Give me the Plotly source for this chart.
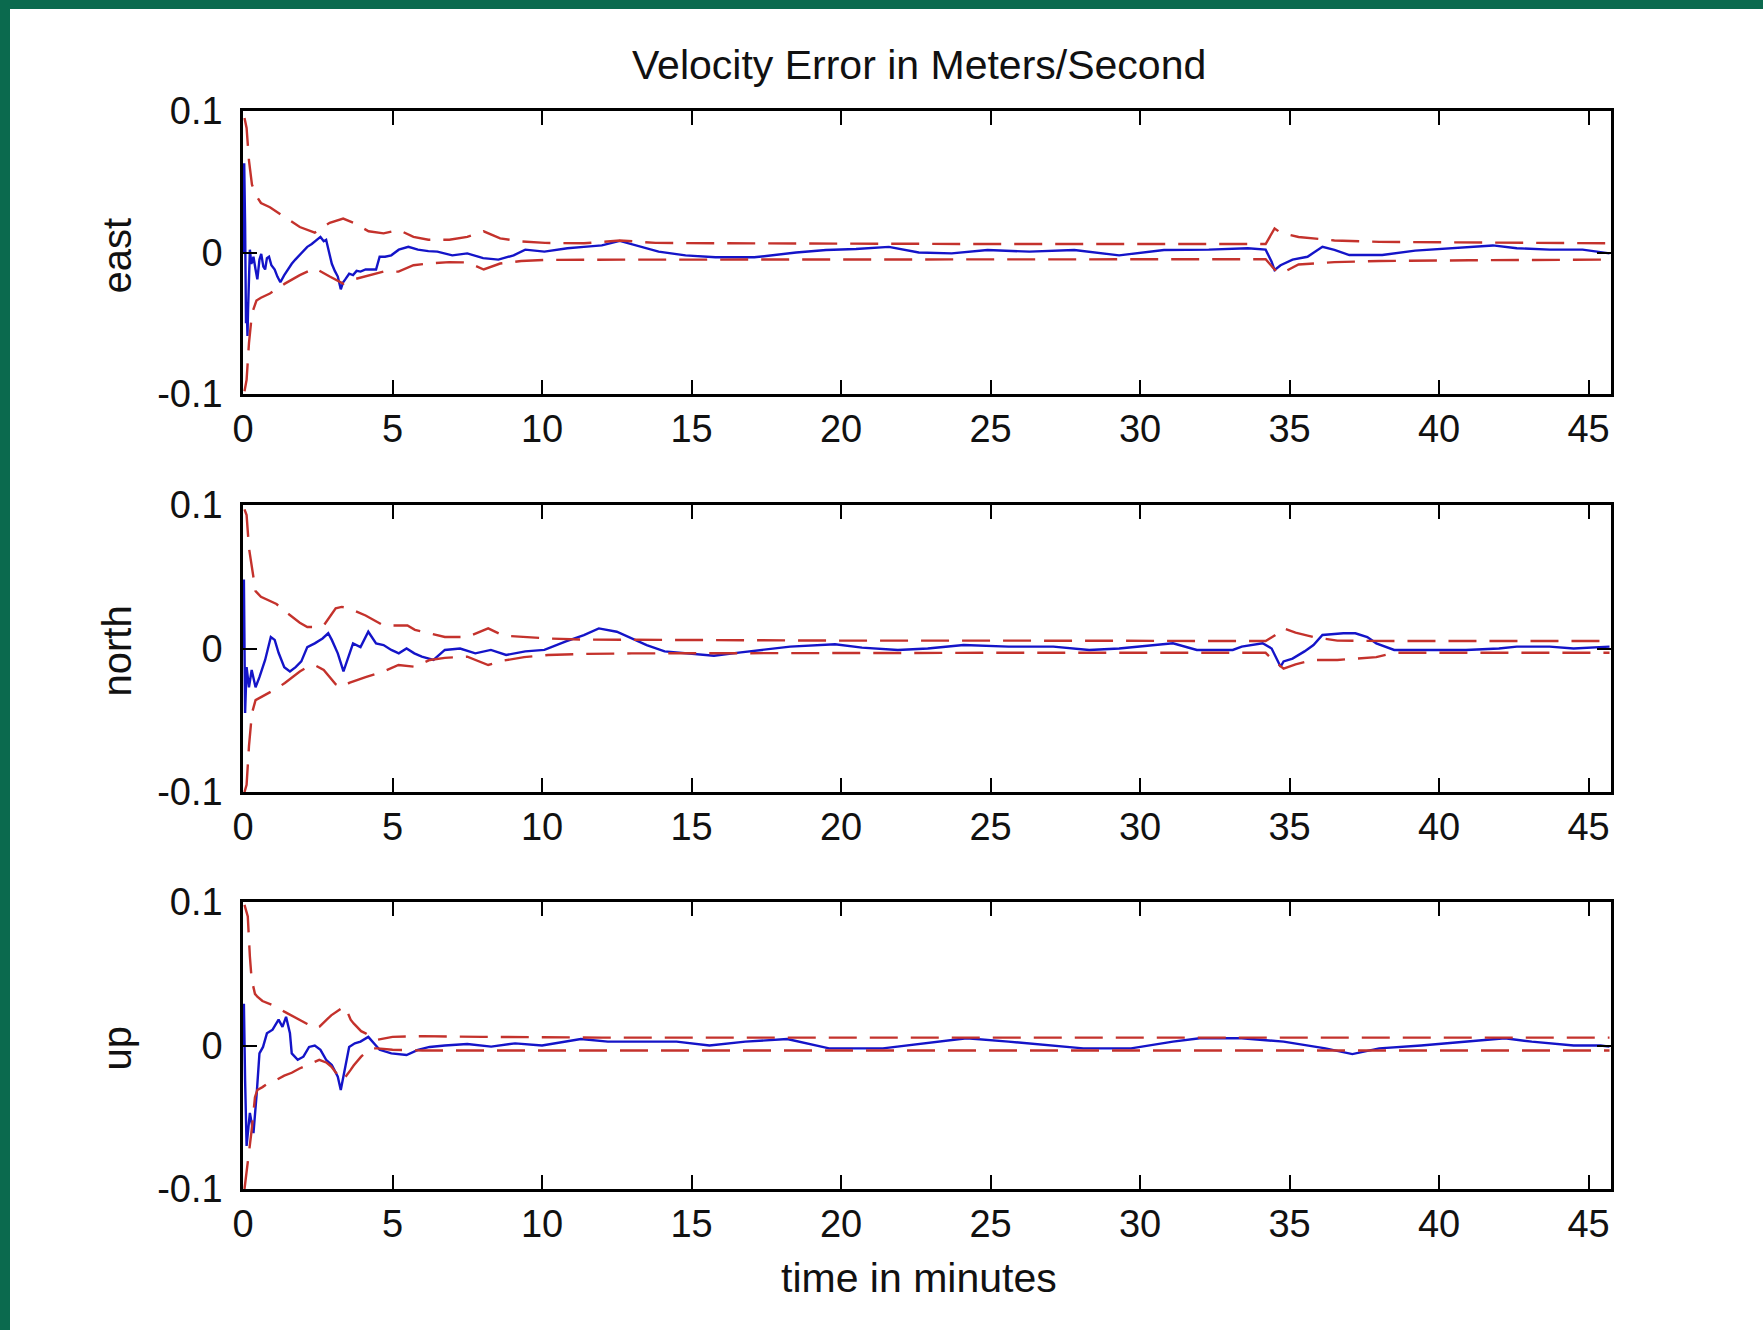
import plotly.graph_objects as go

# ---------------------------------------------------------------------------
# Velocity error (m/s) and its +/- bounds, east / north / up channels
# ---------------------------------------------------------------------------
east_t = [0.0, 0.04, 0.07, 0.1, 0.12, 0.15, 0.17, 0.2, 0.23, 0.28, 0.35, 0.42, 0.48, 0.55,
          0.61, 0.68, 0.74, 0.8, 0.87, 0.95, 1.06, 1.15, 1.25, 1.38, 1.5, 1.63, 1.75, 1.89,
          2.0, 2.15, 2.3, 2.4, 2.5, 2.59, 2.7, 2.78, 2.88, 2.97, 3.07, 3.17, 3.27, 3.35,
          3.42, 3.55, 3.68, 3.8, 3.93, 4.1, 4.3, 4.45, 4.57, 4.75, 4.96, 5.21, 5.53, 5.85,
          6.2, 6.5, 7.0, 7.5, 8.03, 8.54, 9.05, 9.44, 10.08, 10.85, 11.4, 12.0, 12.6, 13.3,
          13.9, 14.8, 15.8, 17.1, 18.5, 19.5, 20.5, 21.6, 22.6, 23.7, 24.9, 26.3, 27.8,
          29.3, 30.8, 32.3, 33.6, 34.2, 34.4, 34.5, 34.7, 35.1, 35.6, 36.1, 36.5, 37.0,
          38.1, 39.2, 40.4, 41.8, 42.6, 43.7, 44.8, 45.7]
east_err = [0.0, 0.063, 0.02, -0.05, -0.035, -0.059, -0.04, -0.01, 0.002, -0.008, -0.003,
            -0.012, -0.019, -0.005, -0.001, -0.01, -0.012, -0.004, -0.003, -0.009, -0.012,
            -0.017, -0.021, -0.016, -0.012, -0.008, -0.005, -0.002, 0.001, 0.004, 0.006,
            0.0077, 0.009, 0.011, 0.008, 0.009, 0.0, -0.008, -0.013, -0.017, -0.026, -0.021,
            -0.019, -0.015, -0.016, -0.013, -0.0135, -0.012, -0.012, -0.012, -0.003, -0.003,
            -0.002, 0.002, 0.004, 0.002, 0.001, 0.0006, -0.002, -0.0006, -0.004, -0.005,
            -0.002, 0.002, 0.0006, 0.003, 0.004, 0.005, 0.0082, 0.004, 0.0006, -0.002,
            -0.0034, -0.0034, 0.0, 0.0018, 0.0025, 0.004, 0.0, -0.0006, 0.0018, 0.0006,
            0.0018, -0.002, 0.0018, 0.002, 0.003, 0.002, -0.0065, -0.0124, -0.009, -0.005,
            -0.003, 0.004, 0.0018, -0.0018, -0.0018, 0.0013, 0.003, 0.005, 0.003, 0.002,
            0.002, -0.0006]
east_bt = [0.05, 0.12, 0.2, 0.3, 0.45, 0.6, 0.9, 1.4, 1.9, 2.4, 2.9, 3.35, 3.7, 4.2, 4.7,
           5.2, 5.7, 6.2, 6.9, 7.5, 8.05, 8.6, 9.3, 10.1, 11.4, 12.6, 13.8, 16, 20, 25, 30,
           34.2, 34.5, 34.7, 35.3, 36.5, 38, 41, 45.7]
east_hi = [0.095, 0.088, 0.065, 0.048, 0.040, 0.035, 0.032, 0.025, 0.018, 0.014, 0.021,
           0.024, 0.021, 0.015, 0.0135, 0.016, 0.011, 0.009, 0.009, 0.011, 0.015, 0.010,
           0.0078, 0.0068, 0.0065, 0.0085, 0.0068, 0.0065, 0.0062, 0.006, 0.006, 0.006,
           0.017, 0.014, 0.011, 0.0085, 0.0075, 0.007, 0.0065]
east_lo = [-0.098, -0.09, -0.064, -0.043, -0.034, -0.032, -0.029, -0.022, -0.016, -0.011,
           -0.017, -0.022, -0.019, -0.016, -0.0135, -0.0135, -0.009, -0.0078, -0.0068,
           -0.007, -0.012, -0.0078, -0.006, -0.0052, -0.005, -0.005, -0.005, -0.005,
           -0.0048, -0.0048, -0.0048, -0.0048, -0.012, -0.015, -0.0085, -0.0068, -0.006,
           -0.0055, -0.005]

north_t = [0.0, 0.03, 0.07, 0.12, 0.2, 0.29, 0.42, 0.55, 0.74, 0.93, 1.06, 1.19, 1.38, 1.57,
           1.76, 1.95, 2.15, 2.4, 2.66, 2.85, 2.97, 3.17, 3.36, 3.49, 3.68, 3.93, 4.19, 4.45,
           4.7, 4.96, 5.21, 5.47, 5.73, 5.98, 6.37, 6.75, 7.26, 7.77, 8.29, 8.8, 9.44, 10.08,
           10.8, 11.4, 11.9, 12.5, 12.9, 13.5, 14.1, 14.9, 15.75, 16.65, 17.4, 18.3, 19.8,
           20.7, 21.9, 22.9, 24.1, 25.6, 27.1, 28.3, 29.3, 31.1, 31.9, 33.1, 33.4, 34.1,
           34.4, 34.7, 34.8, 35.1, 35.5, 35.8, 36.1, 36.8, 37.2, 37.6, 37.9, 38.5, 39.8,
           40.9, 42.0, 42.6, 43.7, 44.5, 45.7]
north_err = [0.0, 0.048, -0.045, -0.013, -0.027, -0.015, -0.027, -0.02, -0.008, 0.008, 0.006,
             -0.003, -0.013, -0.016, -0.013, -0.009, 0.001, 0.0036, 0.007, 0.0106, 0.006,
             -0.0034, -0.016, -0.008, 0.0036, 0.001, 0.0117, 0.0036, 0.0024, -0.001, -0.0034,
             0.0, -0.0034, -0.0057, -0.008, -0.001, 0.0, -0.0034, -0.001, -0.0045, -0.002,
             -0.001, 0.005, 0.0094, 0.014, 0.0117, 0.008, 0.0024, -0.002, -0.0034, -0.005,
             -0.0027, -0.001, 0.0013, 0.003, 0.0006, -0.001, 0.0, 0.0024, 0.0013, 0.0013,
             -0.001, 0.0, 0.0036, -0.001, -0.001, 0.0013, 0.0036, 0.0, -0.0127, -0.009,
             -0.007, -0.002, 0.0024, 0.0094, 0.0106, 0.0106, 0.008, 0.0036, -0.001, -0.001,
             -0.001, 0.0, 0.0013, 0.0013, 0.0, 0.0013]
north_bt = [0.05, 0.12, 0.2, 0.3, 0.42, 0.6, 0.9, 1.12, 1.4, 1.65, 1.9, 2.15, 2.4, 2.7, 3.1,
            3.3, 3.55, 4.1, 4.7, 5.2, 5.5, 5.75, 6.25, 6.75, 7.5, 8.2, 8.7, 9.4, 10.2, 11.4,
            13, 16, 20, 25, 30, 34.2, 34.5, 34.8, 35.2, 35.8, 36.6, 37.9, 38.5, 41, 45.7]
north_hi = [0.097, 0.093, 0.07, 0.056, 0.04, 0.036, 0.033, 0.031, 0.026, 0.022, 0.018, 0.015,
            0.015, 0.016, 0.028, 0.029, 0.028, 0.023, 0.016, 0.016, 0.016, 0.013, 0.0105,
            0.008, 0.008, 0.014, 0.009, 0.008, 0.007, 0.0062, 0.006, 0.0058, 0.0055, 0.0055,
            0.0055, 0.0052, 0.009, 0.014, 0.011, 0.008, 0.0055, 0.0052, 0.0052, 0.0052,
            0.0052]
north_lo = [-0.1, -0.095, -0.068, -0.045, -0.036, -0.034, -0.031, -0.028, -0.024, -0.02,
            -0.016, -0.013, -0.0115, -0.015, -0.025, -0.027, -0.024, -0.02, -0.016, -0.0115,
            -0.012, -0.0127, -0.008, -0.0065, -0.0057, -0.0115, -0.0085, -0.006, -0.0045,
            -0.0038, -0.0034, -0.0032, -0.003, -0.003, -0.003, -0.003, -0.009, -0.014,
            -0.011, -0.008, -0.008, -0.006, -0.003, -0.003, -0.003]

up_t = [0.0, 0.03, 0.07, 0.12, 0.23, 0.35, 0.46, 0.55, 0.67, 0.8, 0.99, 1.19, 1.32, 1.44,
        1.57, 1.63, 1.83, 2.02, 2.21, 2.4, 2.59, 2.78, 2.97, 3.17, 3.27, 3.42, 3.55, 3.74,
        3.93, 4.19, 4.38, 4.57, 4.96, 5.47, 5.85, 6.24, 6.75, 7.5, 8.3, 9.1, 10.0, 11.3,
        12.2, 14.5, 15.6, 16.8, 18.2, 19.6, 21.4, 22.8, 24.2, 25.6, 27.0, 28.1, 29.7, 31.1,
        32.0, 33.4, 34.8, 36.2, 37.1, 38.0, 39.4, 40.8, 42.2, 43.1, 44.5, 45.4, 45.7]
up_err = [0.0, 0.029, -0.024, -0.07, -0.047, -0.061, -0.033, -0.0055, -0.001, 0.0085, 0.011,
          0.018, 0.013, 0.020, 0.0085, -0.0055, -0.010, -0.0078, -0.001, 0.0, -0.003, -0.010,
          -0.0136, -0.0217, -0.031, -0.0147, -0.001, 0.0015, 0.0027, 0.006, 0.0015, -0.003,
          -0.0055, -0.0066, -0.003, -0.001, 0.0, 0.001, -0.0008, 0.0015, 0.0, 0.0045, 0.0027,
          0.0027, 0.0, 0.0027, 0.0045, -0.002, -0.002, 0.0015, 0.005, 0.0027, 0.0, -0.002,
          -0.002, 0.0027, 0.005, 0.005, 0.0027, -0.002, -0.006, -0.002, 0.0, 0.0027, 0.005,
          0.0027, 0.0, 0.0, -0.0008]
up_bt = [0.05, 0.1, 0.16, 0.23, 0.29, 0.4, 0.48, 0.65, 0.87, 1.12, 1.38, 1.63, 1.89, 2.15,
         2.4, 2.55, 2.8, 2.95, 3.3, 3.42, 3.6, 3.7, 3.95, 4.1, 4.35, 4.5, 5.0, 6, 8, 12, 20,
         30, 40, 45.7]
up_hi = [0.098, 0.095, 0.09, 0.062, 0.046, 0.036, 0.034, 0.031, 0.029, 0.027, 0.0236, 0.021,
         0.018, 0.015, 0.012, 0.013, 0.018, 0.021, 0.026, 0.027, 0.018, 0.0154, 0.010, 0.0085,
         0.005, 0.004, 0.006, 0.0065, 0.006, 0.0055, 0.0055, 0.0055, 0.0055, 0.0055]
up_lo = [-0.1, -0.092, -0.082, -0.07, -0.059, -0.036, -0.031, -0.029, -0.026, -0.024, -0.021,
         -0.019, -0.016, -0.0136, -0.011, -0.010, -0.012, -0.0147, -0.024, -0.022, -0.017,
         -0.014, -0.0078, -0.005, -0.002, -0.002, -0.003, -0.0035, -0.0035, -0.0035, -0.0035,
         -0.0035, -0.0035, -0.0035]

panel_names = ["east", "north", "up"]
x_ticks = [0, 5, 10, 15, 20, 25, 30, 35, 40, 45]
y_ticks = [-0.1, 0, 0.1]
y_tick_text = ["-0.1", "0", "0.1"]

# ---------------------------------------------------------------------------
# Page geometry (pixels)
# ---------------------------------------------------------------------------
W, H = 1763, 1330
AX_L, AX_R = 243, 1611
PANEL_TB = [(111, 394), (505, 792), (902, 1189)]
FONT = "Liberation Sans, Arial, sans-serif"
RED = "#c4322c"
BLUE = "#1414c8"
GREEN = "#0b6a4e"


def px_x(px):
    return px / W


def px_y(py):
    return 1 - py / H


series = [
    (east_t, east_err, east_bt, east_hi, east_lo),
    (north_t, north_err, north_bt, north_hi, north_lo),
    (up_t, up_err, up_bt, up_hi, up_lo),
]

fig = go.Figure()
layout = dict(
    width=W, height=H,
    autosize=False,
    margin=dict(l=0, r=0, t=0, b=0, pad=0, autoexpand=False),
    paper_bgcolor=GREEN,
    plot_bgcolor="white",
    showlegend=False,
    font=dict(family=FONT, size=38, color="#111111"),
)

for i, (t, err, bt, hi, lo) in enumerate(series, start=1):
    xref = "x" if i == 1 else f"x{i}"
    yref = "y" if i == 1 else f"y{i}"
    fig.add_trace(go.Scatter(x=t, y=err, mode="lines", xaxis=xref, yaxis=yref,
                             line=dict(color=BLUE, width=2.4)))
    for band in (hi, lo):
        fig.add_trace(go.Scatter(x=bt, y=band, mode="lines", xaxis=xref, yaxis=yref,
                                 line=dict(color=RED, width=2.4, dash="28px,13px")))

    top, bot = PANEL_TB[i - 1]
    axis_common = dict(
        showline=True, linecolor="black", linewidth=2.5, mirror="ticks",
        ticks="inside", ticklen=14, tickwidth=2, tickcolor="black",
        showgrid=False, zeroline=False, automargin=False,
        tickfont=dict(family=FONT, size=38, color="#111111"),
    )
    layout["xaxis" if i == 1 else f"xaxis{i}"] = dict(
        axis_common, domain=[px_x(AX_L), px_x(AX_R)], range=[0, 45.75],
        tickvals=x_ticks, anchor=yref, ticklabelstandoff=0,
    )
    layout["yaxis" if i == 1 else f"yaxis{i}"] = dict(
        axis_common, domain=[px_y(bot), px_y(top)], range=[-0.1, 0.1],
        tickvals=y_ticks, ticktext=y_tick_text, anchor=xref, ticklabelstandoff=10,
    )

annotations = [
    dict(text="Velocity Error in Meters/Second", x=px_x(919), y=px_y(65),
         xref="paper", yref="paper", showarrow=False, xanchor="center", yanchor="middle",
         font=dict(family=FONT, size=41, color="#111111")),
    dict(text="time in minutes", x=px_x(919), y=px_y(1278),
         xref="paper", yref="paper", showarrow=False, xanchor="center", yanchor="middle",
         font=dict(family=FONT, size=41, color="#111111")),
]
for name, (top, bot) in zip(panel_names, PANEL_TB):
    annotations.append(dict(text=name, x=px_x(116), y=px_y((top + bot) / 2 + 3),
                            xref="paper", yref="paper", showarrow=False, textangle=-90,
                            xanchor="center", yanchor="middle",
                            font=dict(family=FONT, size=40, color="#111111")))
layout["annotations"] = annotations

# white slide area inside the green frame
layout["shapes"] = [dict(type="rect", xref="paper", yref="paper",
                         x0=px_x(10), x1=1.01, y0=-0.01, y1=px_y(9),
                         fillcolor="white", line=dict(width=0), layer="below")]

fig.update_layout(**layout)
fig.write_html("out.html")
